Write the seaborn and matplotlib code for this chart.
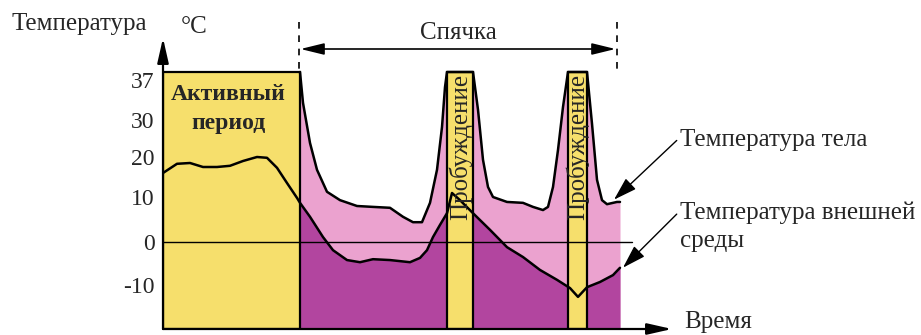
import numpy as np
import pandas as pd
import seaborn as sns
import matplotlib.pyplot as plt
from matplotlib import transforms

# time in arbitrary units (the chart has no time scale), temperature in °C
body_time = [27.4, 28.0, 29.4, 30.8, 32.8, 35.4, 38.8, 42.0, 45.4, 48.0, 50.0, 51.8,
             53.4, 54.8, 55.8, 56.4, 56.8, 62.0, 63.0, 64.0, 65.0, 66.0, 68.8, 72.0,
             74.0, 76.0, 77.0, 78.0, 79.0, 80.0, 81.0, 84.8, 85.8, 86.8, 87.8, 88.8,
             90.0, 90.8, 91.4]
body_temp = [37, 32.5, 23.8, 16.8, 11.3, 9.3, 8.0, 7.8, 7.6, 5.6, 4.4, 4.4,
             8.7, 16.8, 28.1, 34.8, 37, 37, 31.5, 19.3, 12.5, 10.0, 8.9, 8.7,
             7.8, 7.1, 7.8, 12.5, 21.9, 31.9, 37, 37, 29.0, 14.3, 9.3, 8.4,
             8.7, 8.9, 8.9]

env_time = [0.0, 2.8, 5.4, 8.0, 10.8, 13.4, 16.0, 18.8, 20.8, 22.8, 24.8, 26.8,
            27.4, 29.4, 32.0, 34.0, 36.8, 39.4, 42.0, 45.4, 49.4, 51.4, 52.8, 54.0,
            55.4, 56.8, 57.8, 59.4, 62.0, 65.4, 68.8, 72.0, 75.4, 78.8, 81.4, 83.0,
            84.8, 87.4, 90.0, 91.4]
env_temp = [16.0, 18.3, 18.5, 17.5, 17.5, 17.8, 19.0, 20.0, 19.8, 17.3, 13.5, 9.8,
            8.7, 5.6, 1.1, -1.9, -4.2, -4.7, -4.0, -4.2, -4.7, -3.7, -1.9, 1.1,
            3.8, 6.4, 11.0, 9.3, 6.4, 2.7, -1.2, -3.5, -6.5, -8.8, -10.7, -12.7,
            -10.5, -9.3, -7.7, -6.0]

active_end = 27.4
arousal_start = [56.8, 81.0]
arousal_end = [62.0, 84.8]
hibernation = [27.2, 90.8]
peak_temp = 37
y_ticks = [-10, 0, 10, 20, 30, 37]

# the drawing uses an uneven temperature axis
scale_temp = [-20, -10, 0, 10, 20, 30, 37, 42]
scale_pos = [0, 44, 87, 132, 172, 209, 257, 291]

YELLOW = "#f6df6c"
PINK = "#eba2cf"
PURPLE = "#b2459f"
FS = 18

sns.set_style("white")
plt.rcParams["font.family"] = ["Liberation Serif", "DejaVu Serif"]

body = pd.DataFrame({"time": body_time, "temp": body_temp})
env = pd.DataFrame({"time": env_time, "temp": env_temp})

W, H = 921, 335
fig = plt.figure(figsize=(W / 100, H / 100), dpi=100)


def fx(px):
    return px / W


def fy(py):
    return 1 - py / H


ax = fig.add_axes([fx(163), fy(329), (672 - 163) / W, (329 - 38) / H])
ax.set_yscale("function", functions=(lambda t: np.interp(t, scale_temp, scale_pos),
                                     lambda p: np.interp(p, scale_pos, scale_temp)))
ax.set_xlim(0, (672 - 163) / 5)
ax.set_ylim(-20, 42)

hib = env[env.time >= active_end]
ax.fill_between(body.time, -20, body.temp, color=PINK, lw=0, zorder=1)
ax.fill_between(hib.time, -20, hib.temp, color=PURPLE, lw=0, zorder=2)

# active period and arousals
ax.bar([0] + arousal_start, peak_temp + 20,
       width=[active_end] + [e - s for s, e in zip(arousal_start, arousal_end)],
       bottom=-20, align="edge", color=YELLOW, edgecolor="black", lw=1.6, zorder=3)

ax.axhline(0, xmax=(632 - 163) / 509, color="black", lw=1.0, zorder=4)

sns.lineplot(data=env, x="time", y="temp", ax=ax, color="black", lw=1.8,
             estimator=None, sort=False, zorder=5)
sns.lineplot(data=body, x="time", y="temp", ax=ax, color="black", lw=1.8,
             estimator=None, sort=False, zorder=5)

for sp in ax.spines.values():
    sp.set_visible(False)
ax.set_xlabel("")
ax.set_ylabel("")
ax.set_xticks([])
ax.set_yticks(y_ticks)
ax.set_yticklabels([str(v) for v in y_ticks], fontsize=17)
ax.tick_params(axis="y", length=0, pad=6)
ax.get_yticklabels()[-1].set_va("top")

# axes arrows
arrow = dict(arrowstyle="-|>,head_length=0.75,head_width=0.17", color="black",
             lw=1.6, mutation_scale=20, shrinkA=0, shrinkB=0)
ax.annotate("", xy=(0, 1), xytext=(0, 0), xycoords="axes fraction", arrowprops=arrow)
ax.annotate("", xy=(1, 0), xytext=(0, 0), xycoords="axes fraction", arrowprops=arrow)

fig.text(fx(147), fy(24), "Температура", ha="right", va="center", fontsize=FS)
fig.text(fx(181), fy(27), "°C", ha="left", va="center", fontsize=FS)
fig.text(fx(684), fy(322), "Время", ha="left", va="center", fontsize=FS)

ax.text(active_end / 2 - 0.6, 31.6, "Активный\nпериод", ha="center", va="center",
        fontsize=17, fontweight="bold", linespacing=1.45, zorder=6)
for s, e in zip(arousal_start, arousal_end):
    ax.text((s + e) / 2, 22.6, "Пробуждение", rotation=90, ha="center",
            va="center", fontsize=FS, zorder=6)

# hibernation span above the plot
blend = transforms.blended_transform_factory(ax.transData, fig.transFigure)
for x in hibernation:
    ax.plot([x, x], [fy(22), fy(72)], transform=blend, color="black", lw=1.2,
            ls=(0, (4, 4)), clip_on=False)
ax.annotate("", xy=(hibernation[0] + 0.3, fy(49)), xytext=(hibernation[1] - 0.3, fy(49)),
            xycoords=blend, textcoords=blend,
            arrowprops=dict(arrowstyle="<|-|>,head_length=0.9,head_width=0.22",
                            color="black", lw=1.2, mutation_scale=16,
                            shrinkA=0, shrinkB=0))
fig.text(fx(458), fy(33), "Спячка", ha="center", va="center", fontsize=FS)

pointer = dict(arrowstyle="-|>,head_length=0.8,head_width=0.25", color="black",
               lw=1.0, mutation_scale=18, shrinkA=0, shrinkB=1, relpos=(0, 0.62))
ax.annotate("Температура тела", xy=(90.0, 9.2), xycoords="data",
            xytext=(fx(680), fy(140)), textcoords="figure fraction",
            ha="left", va="center", fontsize=FS, arrowprops=pointer)
ax.annotate("Температура внешней\nсреды", xy=(91.8, -6.2), xycoords="data",
            xytext=(fx(680), fy(227)), textcoords="figure fraction",
            ha="left", va="center", fontsize=FS, linespacing=1.35,
            arrowprops=dict(pointer, relpos=(0, 0.82)))

fig.savefig("out.png", dpi=100)
